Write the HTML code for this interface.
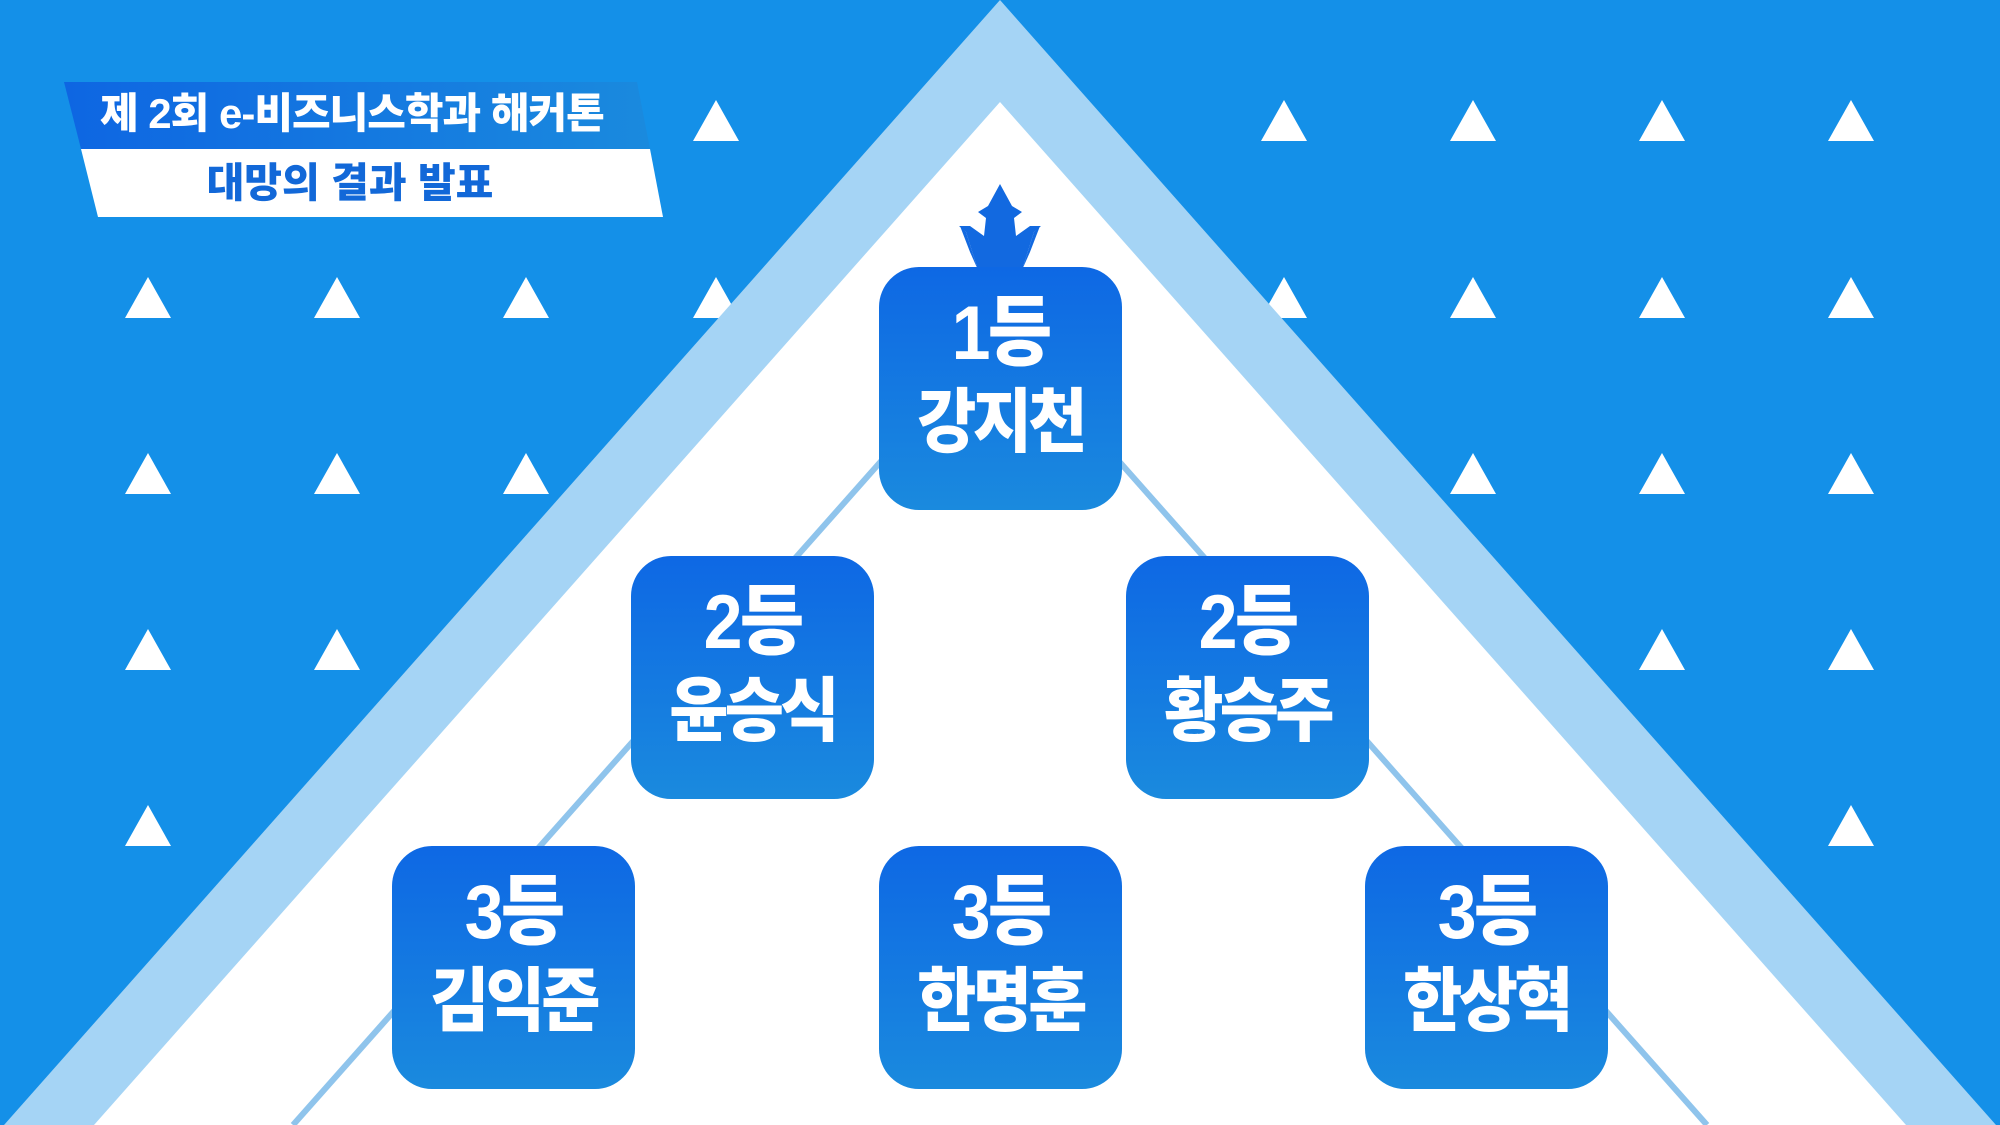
<!DOCTYPE html>
<html><head><meta charset="utf-8"><style>
html,body{margin:0;padding:0;}
body{width:2000px;height:1125px;overflow:hidden;background:#1490e8;position:relative;font-family:"Liberation Sans","Noto Sans CJK KR",sans-serif;}
svg{position:absolute;left:0;top:0;}
.box{position:absolute;width:243px;height:243px;border-radius:40px;background:linear-gradient(#0e68e4,#1a8ade);color:#fff;text-align:center;font-weight:900;}
.box .a{position:absolute;left:0;right:0;top:30px;font-size:76px;line-height:74px;letter-spacing:-3px;transform:scaleX(0.92);}
.box .b{position:absolute;left:0;right:0;top:118px;font-size:70px;line-height:74px;letter-spacing:-4px;transform:scaleX(0.92);}
.t1{position:absolute;left:64px;top:80px;width:590px;height:67px;color:#fff;font-weight:900;font-size:42px;line-height:67px;letter-spacing:-1px;padding-left:36px;box-sizing:border-box;white-space:nowrap;}
.t2{position:absolute;left:90px;top:149px;width:520px;height:68px;color:#1268d8;font-weight:900;font-size:41px;line-height:68px;text-align:center;letter-spacing:0px;}
</style></head><body>
<svg width="2000" height="1125" viewBox="0 0 2000 1125">
<defs><linearGradient id="tg" x1="0" x2="1"><stop offset="0" stop-color="#0e66e2"/><stop offset="1" stop-color="#1a8ade"/></linearGradient></defs>
<g fill="#fff">
<g id="r0">
<polygon points="716,100 693,141 739,141"/>
<polygon points="1284,100 1261,141 1307,141"/>
<polygon points="1473,100 1450,141 1496,141"/>
<polygon points="1662,100 1639,141 1685,141"/>
<polygon points="1851,100 1828,141 1874,141"/>
</g>
<g id="row">
<polygon points="148,277 125,318 171,318"/>
<polygon points="337,277 314,318 360,318"/>
<polygon points="526,277 503,318 549,318"/>
<polygon points="716,277 693,318 739,318"/>
<polygon points="1284,277 1261,318 1307,318"/>
<polygon points="1473,277 1450,318 1496,318"/>
<polygon points="1662,277 1639,318 1685,318"/>
<polygon points="1851,277 1828,318 1874,318"/>
</g>
<use href="#row" y="176"/>
<use href="#row" y="352"/>
<use href="#row" y="528"/>
</g>
<polygon points="1000,0 4,1125 1996,1125" fill="#a5d4f5"/>
<polygon points="1000,102 94,1125 1906,1125" fill="#fff"/>
<line x1="1000" y1="327" x2="293" y2="1125" stroke="#8fc4ec" stroke-width="6"/>
<line x1="1000" y1="327" x2="1707" y2="1125" stroke="#8fc4ec" stroke-width="6"/>
<polygon points="64,82 637,82 650,149 81,149" fill="url(#tg)"/>
<polygon points="81,149 650,149 663,217 98,217" fill="#fff"/>
<polygon fill="#1269e0" points="1000,184 1012,206 1022,212 1014,218 1016,236 1030,226 1041,226 1034,232 1022,270 978,270 966,232 959,226 970,226 984,236 986,218 978,212 988,206"/>
<polygon fill="#1269e0" points="960,226 970,252 978,270 966,232"/>
<polygon fill="#1269e0" points="1040,226 1030,252 1022,270 1034,232"/>
</svg>
<div class="t1">제 2회 e-비즈니스학과 해커톤</div>
<div class="t2">대망의 결과 발표</div>
<div class="box" style="left:879px;top:267px"><div class="a">1등</div><div class="b">강지천</div></div>
<div class="box" style="left:631px;top:556px"><div class="a">2등</div><div class="b">윤승식</div></div>
<div class="box" style="left:1126px;top:556px"><div class="a">2등</div><div class="b">황승주</div></div>
<div class="box" style="left:392px;top:846px"><div class="a">3등</div><div class="b">김익준</div></div>
<div class="box" style="left:879px;top:846px"><div class="a">3등</div><div class="b">한명훈</div></div>
<div class="box" style="left:1365px;top:846px"><div class="a">3등</div><div class="b">한상혁</div></div>
</body></html>
